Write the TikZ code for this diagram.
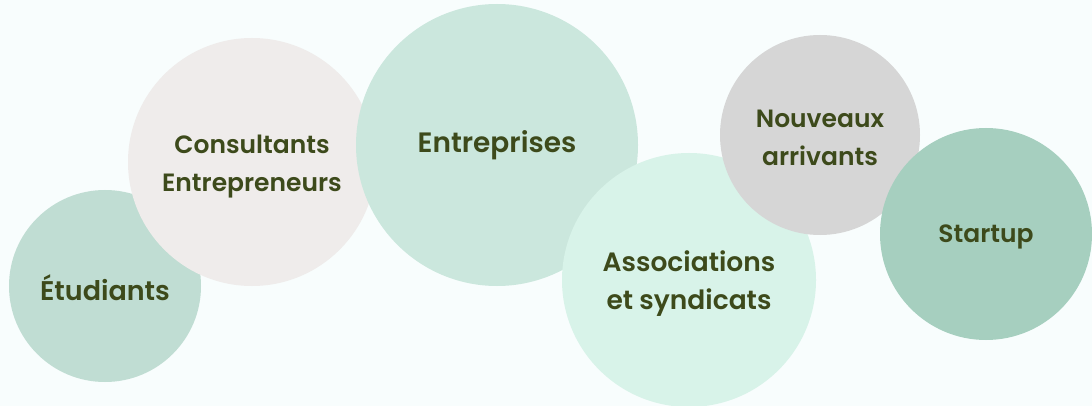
\documentclass[tikz,border=0pt]{standalone}
\usepackage{fontspec}
\setmainfont{Poppins}[UprightFont=* SemiBold]
\definecolor{bgblue}{HTML}{F8FDFD}
\definecolor{textolive}{HTML}{3D4A1B}
\definecolor{etudgreen}{HTML}{C0DDD3}
\definecolor{consgrey}{HTML}{EFECEB}
\definecolor{entrgreen}{HTML}{CBE7DD}
\definecolor{assomint}{HTML}{D8F3E9}
\definecolor{nouvgrey}{HTML}{D6D6D6}
\definecolor{startgreen}{HTML}{A6CFBF}
\tikzset{
  bubble/.style={circle, inner sep=0pt},
  bubbletext/.style={inner sep=0pt, align=center, text=textolive,
    font=\fontsize{25}{38}\selectfont}
}
\begin{document}
\begin{tikzpicture}[x=1pt, y=-1pt]
  \fill[bgblue] (0,0) rectangle (1092,406);
  \useasboundingbox (0,0) rectangle (1092,406);
  % bubbles, left to right, each on top of the previous one
  \node[bubble, fill=etudgreen, minimum size=192pt] (etud) at (105,286) {};
  \node[bubbletext, font=\fontsize{27}{38}\selectfont] (etudtext) at ([yshift=-2pt]etud.center) {Étudiants};
  \node[bubble, fill=consgrey, minimum size=248pt] (cons) at (252,162) {};
  \node[bubbletext] (constext) at ([yshift=-5pt]cons.center) {Consultants\\Entrepreneurs};
  \node[bubble, fill=entrgreen, minimum size=282pt] (entr) at (497,145) {};
  \node[bubbletext, font=\fontsize{28}{38}\selectfont] (entrtext) at (entr.center) {Entreprises};
  \node[bubble, fill=assomint, minimum size=254pt] (asso) at (689,280) {};
  \node[bubbletext, font=\fontsize{26.5}{38}\selectfont] (assotext) at ([yshift=-4pt]asso.center) {Associations\\et syndicats};
  \node[bubble, fill=nouvgrey, minimum size=200pt] (nouv) at (820,135) {};
  \node[bubbletext] (nouvtext) at ([yshift=-3pt]nouv.center) {Nouveaux\\arrivants};
  \node[bubble, fill=startgreen, minimum size=212pt] (start) at (986,234) {};
  \node[bubbletext] (starttext) at ([yshift=-3pt]start.center) {Startup};
\end{tikzpicture}
\end{document}
